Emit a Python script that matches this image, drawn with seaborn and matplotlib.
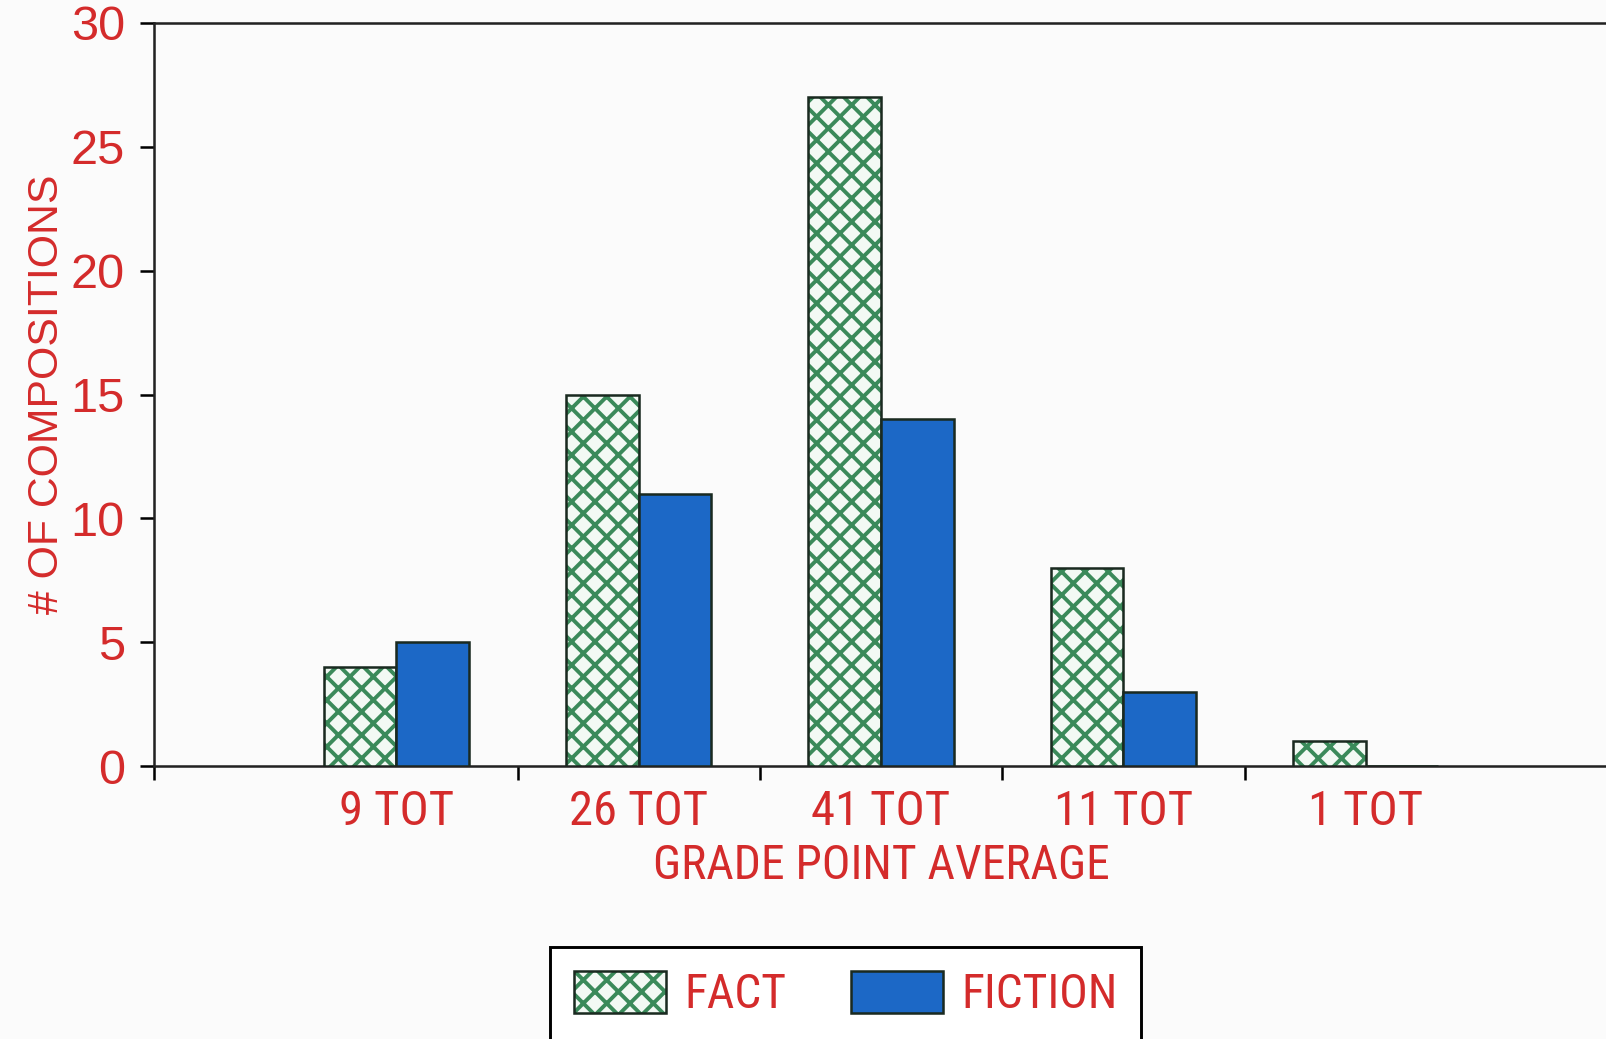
import matplotlib
matplotlib.use("Agg")
import matplotlib.pyplot as plt
import matplotlib.font_manager as fm
from matplotlib.colors import to_rgba
from matplotlib.patches import Patch
import seaborn as sns
import pandas as pd

# ---- data ----
categories = ["9 TOT", "26 TOT", "41 TOT", "11 TOT", "1 TOT"]
fact_values = [4, 15, 27, 8, 1]
fiction_values = [5, 11, 14, 3, 0]
series_names = ["FACT", "FICTION"]
y_ticks = [0, 5, 10, 15, 20, 25, 30]
x_label = "GRADE POINT AVERAGE"
y_label = "# OF COMPOSITIONS"

RED = "#d42b2b"
BLUE = "#1c68c6"
GREEN = "#3a8a5a"
BG = "#fbfbfb"

sns.set_theme(style="white")
names = {f.name for f in fm.fontManager.ttflist}
NARROW = "Roboto"
for cand in ["Roboto Condensed", "Liberation Sans Narrow", "Arial Narrow", "Roboto"]:
    if cand in names:
        NARROW = cand
        break
REG = "Liberation Sans"
plt.rcParams["font.family"] = [REG, "DejaVu Sans"]
plt.rcParams["hatch.linewidth"] = 2.0

df = pd.DataFrame({
    "grade": categories * 2,
    "kind": [series_names[0]] * len(categories) + [series_names[1]] * len(categories),
    "count": fact_values + fiction_values,
})

DPI = 140
fig = plt.figure(figsize=(1606 / DPI, 1039 / DPI), dpi=DPI, facecolor=BG)
ax = fig.add_axes([154 / 1606, 1 - 766 / 1039, 1454 / 1606, 743 / 1039])
ax.set_facecolor(BG)

sns.barplot(data=df, x="grade", y="count", hue="kind", order=categories,
            hue_order=series_names, palette={"FACT": "#f2f9f4", "FICTION": BLUE},
            width=0.6, gap=0, edgecolor="#1a2a20", linewidth=1.3, saturation=1,
            legend=False, ax=ax, zorder=3)

for p in ax.containers[0]:
    p.set_hatch("xx")
    p._hatch_color = to_rgba(GREEN)

narrow_kw = dict(family=[NARROW, "DejaVu Sans"], weight="normal")

ax.set_xlim(-1, 5)
ax.set_ylim(0, 30)
ax.set_yticks(y_ticks)
ax.set_yticklabels([str(t) for t in y_ticks], fontsize=25, color=RED, family=[REG, "DejaVu Sans"])
ax.set_xticks(range(len(categories)))
ax.set_xticklabels(categories, fontsize=25, color=RED, **narrow_kw)
ax.set_xticks([-1, 0.5, 1.5, 2.5, 3.5], minor=True)
ax.tick_params(axis="x", which="major", length=0, pad=12)
ax.tick_params(axis="x", which="minor", length=7, width=1.3, color="black", direction="out", bottom=True)
ax.tick_params(axis="y", which="major", length=7, width=1.3, color="black", direction="out", left=True, pad=8)

ax.set_xlabel(x_label, fontsize=24.5, color=RED, labelpad=4, **narrow_kw)
ax.set_ylabel(y_label, fontsize=22, color=RED, family=[REG, "DejaVu Sans"], labelpad=2)

for side in ["left", "bottom", "top"]:
    ax.spines[side].set_visible(True)
    ax.spines[side].set_color("#222222")
    ax.spines[side].set_linewidth(1.3)
ax.spines["right"].set_visible(False)
ax.grid(False)

fact_handle = Patch(facecolor="#f2f9f4", edgecolor="#1a2a20", linewidth=1.3, hatch="xx")
fact_handle._hatch_color = to_rgba(GREEN)
fiction_handle = Patch(facecolor=BLUE, edgecolor="#1a2a20", linewidth=1.3)
leg = ax.legend(handles=[fact_handle, fiction_handle], labels=series_names, ncol=2,
                loc="upper left", bbox_to_anchor=(550 / 1606, 1 - 947 / 1039),
                bbox_transform=fig.transFigure, frameon=True, fancybox=False,
                framealpha=1, facecolor="white", edgecolor="black",
                borderpad=0.5, borderaxespad=0, handlelength=1.93, handleheight=1.0,
                handletextpad=0.39, columnspacing=1.35,
                prop=fm.FontProperties(family=[NARROW, "DejaVu Sans"], weight="normal", size=24.5))
leg.get_frame().set_linewidth(1.5)
for t in leg.get_texts():
    t.set_color(RED)

fig.savefig("out.png", dpi=DPI, facecolor=BG)
